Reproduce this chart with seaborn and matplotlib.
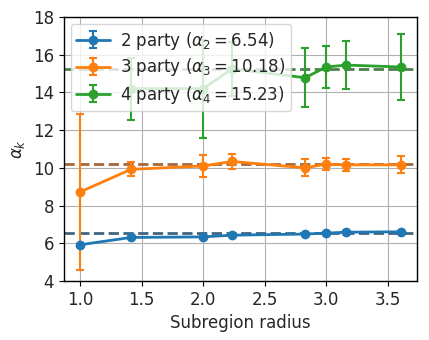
import numpy as np
import matplotlib
matplotlib.use("Agg")
import matplotlib.pyplot as plt
import seaborn as sns

radius = [1.0, 1.414, 2.0, 2.236, 2.828, 3.0, 3.162, 3.606]

alpha2 = [5.92, 6.31, 6.34, 6.43, 6.49, 6.54, 6.59, 6.61]
err2 = [0.06, 0.05, 0.05, 0.04, 0.04, 0.04, 0.04, 0.04]

alpha3 = [8.72, 9.92, 10.1, 10.34, 10.0, 10.2, 10.16, 10.16]
err3 = [4.15, 0.37, 0.6, 0.4, 0.45, 0.3, 0.3, 0.45]

radius4 = [1.414, 2.0, 2.236, 2.828, 3.0, 3.162, 3.606]
alpha4 = [14.2, 14.2, 15.25, 14.78, 15.35, 15.45, 15.35]
err4 = [1.65, 2.6, 1.45, 1.55, 1.1, 1.28, 1.77]

means = [6.54, 10.18, 15.23]
labels = [r"2 party ($\alpha_2 = 6.54$)", r"3 party ($\alpha_3 = 10.18$)",
          r"4 party ($\alpha_4 = 15.23$)"]

sns.set_style("ticks")
plt.rcParams['font.family'] = ['DejaVu Sans']
pal = sns.color_palette("tab10")
dash_cols = ["#41657f", "#a5683c", "#4e7d4e"]

fig = plt.figure(figsize=(4.29, 3.40), dpi=100)
ax = fig.add_axes([0.149, 0.1735, 0.823, 0.7765])

series = [(radius, alpha2, err2), (radius, alpha3, err3), (radius4, alpha4, err4)]
for i, (x, y, e) in enumerate(series):
    ax.errorbar(x, y, yerr=e, color=pal[i], marker='o', ms=6, lw=2,
                capsize=3, capthick=1.5, elinewidth=1.5, label=labels[i], zorder=3)
for i, m in enumerate(means):
    ax.axhline(m, color=dash_cols[i], ls='--', lw=2, zorder=2.5)

ax.set_ylim(4, 18)
ax.set_yticks([4, 6, 8, 10, 12, 14, 16, 18])
ax.set_xticks([1.0, 1.5, 2.0, 2.5, 3.0, 3.5])
ax.grid(True, color='#b0b0b0', lw=0.8)
for s in ax.spines.values():
    s.set_visible(True)
    s.set_color('black')
    s.set_linewidth(1.0)
ax.tick_params(labelsize=12, length=3.5, width=0.8, color='black')
ax.set_xlabel("Subregion radius", fontsize=12)
ax.set_ylabel(r"$\alpha_k$", fontsize=12)
ax.legend(loc='upper left', fontsize=12, framealpha=0.8, borderpad=0.35,
          labelspacing=0.3, handletextpad=0.6, borderaxespad=0.4)

fig.savefig("out.png", dpi=100)
